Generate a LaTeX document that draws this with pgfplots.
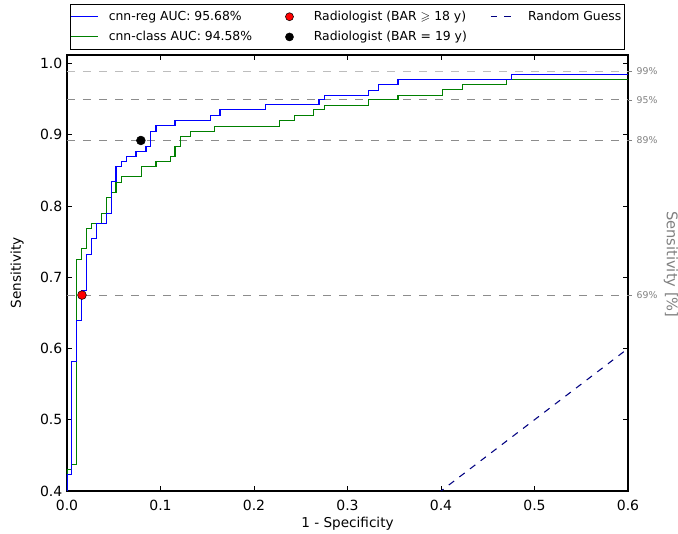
\documentclass[border=0pt]{standalone}
\usepackage{pgfplots}
\pgfplotsset{compat=1.18}
\usepackage{amssymb}
\usepackage{fontspec}
\setmainfont{DejaVu Sans}

\definecolor{mplgreen}{rgb}{0,0.5,0}
\definecolor{mplnavy}{rgb}{0,0,0.5}
\definecolor{refline}{rgb}{0.55,0.55,0.55}
\definecolor{reflight}{rgb}{0.74,0.74,0.74}
\definecolor{rightlab}{rgb}{0.5,0.5,0.5}

\begin{document}
\begin{tikzpicture}
% page = 678x534 px at 0.75pt/px, axis box 561x436 px from (67,491)
\useasboundingbox (-50.25pt,-32.25pt) rectangle (458.25pt,368.25pt);
\begin{axis}[
    name=main,
    scale only axis,
    width=420.75pt, height=327pt,
    xmin=0, xmax=0.6, ymin=0.4, ymax=1.012,
    xtick={0,0.1,0.2,0.3,0.4,0.5,0.6},
    ytick={0.4,0.5,0.6,0.7,0.8,0.9,1.0},
    tick label style={/pgf/number format/fixed, /pgf/number format/fixed zerofill,
        /pgf/number format/precision=1, /pgf/number format/assume math mode=true,
        font=\fontsize{10.5}{12}\selectfont},
    xticklabel style={yshift=-3.5pt},
    xlabel={1 - Specificity}, ylabel={Sensitivity},
    label style={font=\fontsize{10.2}{12}\selectfont},
    xlabel style={at={(axis description cs:0.5,-0.0757)}, anchor=center},
    ylabel style={at={(axis description cs:-0.0891,0.5)}, anchor=center},
    axis line style={line width=0.8pt},
    tick style={black, line width=0.6pt},
    major tick length=4pt,
    legend style={at={(0.5,1)}, yshift=3.75pt, anchor=south, draw=black, fill=white,
        font=\fontsize{9.3}{11}\selectfont, line width=0.6pt,
        inner xsep=0.25pt, inner ysep=3.2pt, row sep=2.6pt,
        /tikz/column 2/.append style={column sep=16.25pt},
        /tikz/column 4/.append style={column sep=15.5pt}},
    legend columns=3,
    legend cell align=left,
]
\addlegendimage{legend image code/.code={
    \draw[blue, line width=0.8pt] (0pt,0pt) -- (20.25pt,0pt);
    \path[draw=none, fill=none] (0pt,-1pt) rectangle (26pt,1pt);}}
\addlegendentry{cnn-reg AUC: 95.68\%}
\addlegendimage{legend image code/.code={
    \path[draw=black, fill=red, line width=0.4pt] (9.75pt,0pt) circle (3pt);
    \path[draw=none, fill=none] (0pt,-1pt) rectangle (26pt,1pt);}}
\addlegendentry{Radiologist (BAR $\geqslant$ 18 y)}
\addlegendimage{legend image code/.code={
    \draw[mplnavy, line width=0.8pt, dash pattern=on 5pt off 5pt] (0pt,0pt) -- (15pt,0pt);
    \path[draw=none, fill=none] (0pt,-1pt) rectangle (26pt,1pt);}}
\addlegendentry{Random Guess}
\addlegendimage{legend image code/.code={
    \draw[mplgreen, line width=0.8pt] (0pt,0pt) -- (20.25pt,0pt);
    \path[draw=none, fill=none] (0pt,-1pt) rectangle (26pt,1pt);}}
\addlegendentry{cnn-class AUC: 94.58\%}
\addlegendimage{legend image code/.code={
    \path[draw=black, fill=black, line width=0.4pt] (9.75pt,0pt) circle (3pt);
    \path[draw=none, fill=none] (0pt,-1pt) rectangle (26pt,1pt);}}
\addlegendentry{Radiologist (BAR = 19 y)}

% reference sensitivity levels
\addplot[forget plot, reflight, line width=0.8pt, dash pattern=on 6pt off 6pt] coordinates {(0,0.989) (0.6,0.989)};
\addplot[forget plot, refline, line width=0.8pt, dash pattern=on 6pt off 6pt] coordinates {(0,0.949) (0.6,0.949)};
\addplot[forget plot, refline, line width=0.8pt, dash pattern=on 6pt off 6pt] coordinates {(0,0.892) (0.6,0.892)};
\addplot[forget plot, refline, line width=0.8pt, dash pattern=on 6pt off 6pt] coordinates {(0,0.675) (0.6,0.675)};

% random guess
\addplot[forget plot, mplnavy, line width=0.8pt, dash pattern=on 5pt off 5pt] coordinates {(0,0) (1,1)};

% cnn-class
\addplot[forget plot, const plot, mplgreen, line width=0.8pt] coordinates {
    (0,0) (0,0.43) (0.0053,0.437) (0.0103,0.725) (0.0157,0.741) (0.021,0.769)
    (0.0264,0.776) (0.037,0.790) (0.0424,0.812) (0.0478,0.819) (0.0524,0.833)
    (0.0578,0.842) (0.0792,0.855) (0.0952,0.862) (0.111,0.869) (0.1155,0.883)
    (0.1216,0.897) (0.132,0.904) (0.158,0.912) (0.227,0.920) (0.243,0.927)
    (0.264,0.935) (0.275,0.941) (0.3225,0.949) (0.354,0.955) (0.402,0.963)
    (0.423,0.970) (0.470,0.977) (0.6,0.977)
};

% cnn-reg
\addplot[forget plot, const plot, blue, line width=0.8pt] coordinates {
    (0,0) (0,0.4225) (0.0053,0.582) (0.0103,0.639) (0.016,0.682) (0.021,0.732)
    (0.0264,0.755) (0.032,0.776) (0.0424,0.790) (0.0478,0.834) (0.0524,0.855)
    (0.0578,0.862) (0.0638,0.869) (0.0738,0.876) (0.0845,0.883) (0.0895,0.904)
    (0.0952,0.913) (0.1155,0.920) (0.153,0.927) (0.1636,0.935) (0.212,0.942)
    (0.2695,0.949) (0.275,0.955) (0.3225,0.962) (0.333,0.970) (0.354,0.977)
    (0.4756,0.985) (0.6,0.985)
};

% radiologists
\addplot[forget plot, only marks, mark=*, mark size=3.3pt, draw=black, fill=red] coordinates {(0.016,0.675)};
\addplot[forget plot, only marks, mark=*, mark size=3.3pt, draw=black, fill=black] coordinates {(0.079,0.892)};
\end{axis}

\begin{axis}[
    scale only axis,
    width=420.75pt, height=327pt,
    xmin=0, xmax=0.6, ymin=0.4, ymax=1.012,
    axis x line=none,
    axis y line*=right,
    y axis line style={draw=none},
    ytick={0.675,0.892,0.949,0.989},
    yticklabels={69\%,89\%,95\%,99\%},
    yticklabel style={font=\fontsize{7}{8}\selectfont, text=rightlab},
    tick style={rightlab, line width=0.5pt},
    tick align=outside, major tick length=3pt,
    ylabel={Sensitivity [\%]},
    ylabel style={at={(axis description cs:1.0767,0.52)}, anchor=center,
        font=\fontsize{11}{13}\selectfont, text=rightlab, rotate=180},
]
\addplot[draw=none] coordinates {(0,0.5)};
\end{axis}
\end{tikzpicture}
\end{document}
